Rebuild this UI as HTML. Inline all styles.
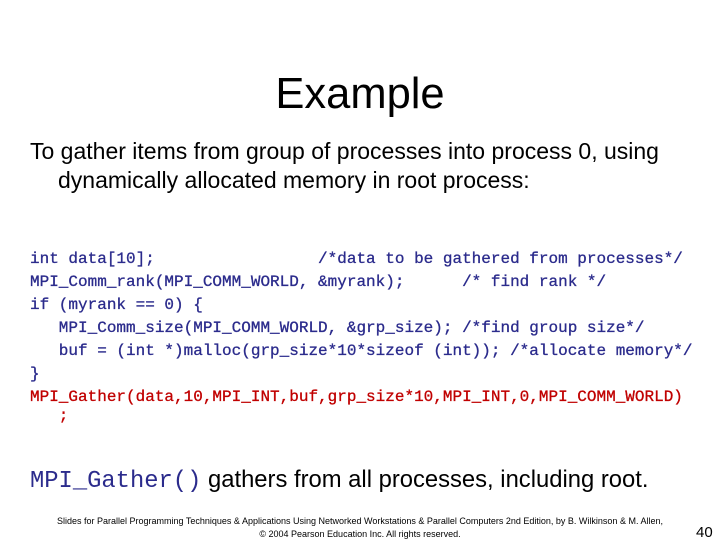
<!DOCTYPE html>
<html><head><meta charset="utf-8"><style>
body{margin:0;width:720px;height:540px;background:#fff;position:relative;overflow:hidden;font-family:"Liberation Sans",Arial,sans-serif;}
.a{position:absolute;white-space:pre;}
.code{font-family:"Liberation Mono",monospace;font-size:16px;color:#2b2b8c;left:30px;line-height:16px;-webkit-text-stroke:0.3px;}
.red{color:#c00000;}
</style></head><body>
<div class="a" style="left:0;width:720px;text-align:center;top:69px;font-size:43.5px;line-height:50px;color:#000;">Example</div>
<div class="a" style="left:30px;top:138px;font-size:23px;line-height:26px;color:#000;">To gather items from group of processes into process 0, using</div>
<div class="a" style="left:58px;top:167px;font-size:23px;line-height:26px;color:#000;">dynamically allocated memory in root process:</div>
<div class="a code" style="top:251px;">int data[10];                 /*data to be gathered from processes*/</div>
<div class="a code" style="top:274px;">MPI_Comm_rank(MPI_COMM_WORLD, &amp;myrank);      /* find rank */</div>
<div class="a code" style="top:297px;">if (myrank == 0) {</div>
<div class="a code" style="top:320px;">   MPI_Comm_size(MPI_COMM_WORLD, &amp;grp_size); /*find group size*/</div>
<div class="a code" style="top:343px;">   buf = (int *)malloc(grp_size*10*sizeof (int)); /*allocate memory*/</div>
<div class="a code" style="top:366px;">}</div>
<div class="a code red" style="top:389px;">MPI_Gather(data,10,MPI_INT,buf,grp_size*10,MPI_INT,0,MPI_COMM_WORLD)</div>
<div class="a code red" style="top:408px;">   ;</div>
<div class="a" style="left:30px;top:467px;font-size:23.8px;line-height:26px;color:#000;"><span style="font-family:'Liberation Mono',monospace;font-size:23.8px;color:#2b2b8c;">MPI_Gather()</span> gathers from all processes, including root.</div>
<div class="a" style="left:0;width:720px;text-align:center;top:515px;font-size:9px;line-height:13px;color:#000;">Slides for Parallel Programming Techniques &amp; Applications Using Networked Workstations &amp; Parallel Computers 2nd Edition, by B. Wilkinson &amp; M. Allen,
© 2004 Pearson Education Inc. All rights reserved.</div>
<div class="a" style="left:696px;top:525px;font-size:15px;line-height:16px;color:#000;">40</div>
</body></html>
